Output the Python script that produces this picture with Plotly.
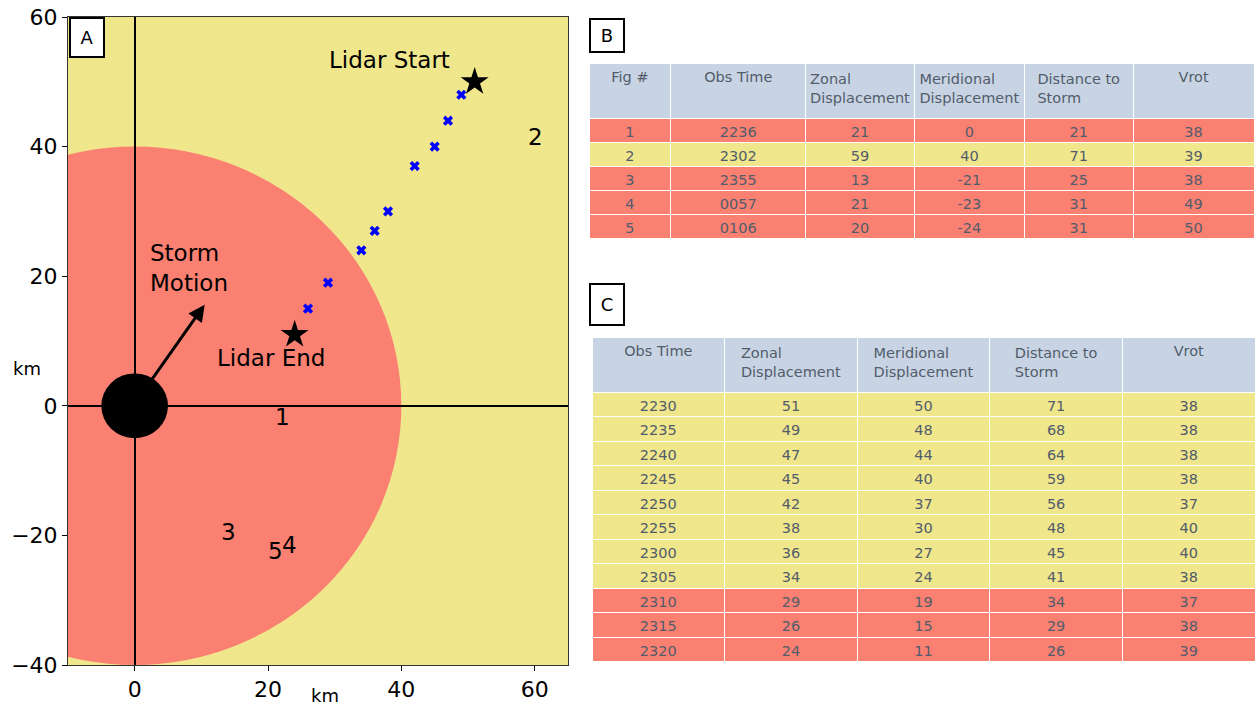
import plotly.graph_objects as go

# ---- Table B: selected figure times ----
fig_num = [1, 2, 3, 4, 5]
b_time = ["2236", "2302", "2355", "0057", "0106"]
b_zonal = [21, 59, 13, 21, 20]
b_merid = [0, 40, -21, -23, -24]
b_dist = [21, 71, 25, 31, 31]
b_vrot = [38, 39, 38, 49, 50]

# ---- Table C: lidar track ----
c_time = ["2230", "2235", "2240", "2245", "2250", "2255",
          "2300", "2305", "2310", "2315", "2320"]
c_zonal = [51, 49, 47, 45, 42, 38, 36, 34, 29, 26, 24]
c_merid = [50, 48, 44, 40, 37, 30, 27, 24, 19, 15, 11]
c_dist = [71, 68, 64, 59, 56, 48, 45, 41, 34, 29, 26]
c_vrot = [38, 38, 38, 38, 37, 40, 40, 38, 37, 38, 39]

near_radius = 40      # km, inner zone
storm_radius = 5      # km, storm marker
motion_vec = (10.5, 15.6)

SALMON = "#FA8072"
KHAKI = "#F0E68C"
HEAD = "#C8D4E3"
TXT = "#525c6b"

W, H = 1259, 708


def px_x(p):
    return p / W


def px_y(p):
    return 1 - p / H


fig = go.Figure()

# lidar track points
fig.add_trace(go.Scatter(
    x=c_zonal[1:-1], y=c_merid[1:-1], mode="markers",
    marker=dict(symbol="x", size=9, color="blue", line=dict(width=0)),
    xaxis="x", yaxis="y", showlegend=False, hoverinfo="skip"))
# start / end stars
fig.add_trace(go.Scatter(
    x=[c_zonal[0], c_zonal[-1]], y=[c_merid[0], c_merid[-1]], mode="markers",
    marker=dict(symbol="star", size=21, color="black", line=dict(width=0)),
    xaxis="x", yaxis="y", showlegend=False, hoverinfo="skip"))

# figure-number labels at their displacement (pixel nudges keep 4 and 5 apart)
label_nudge = {1: (0, 4), 4: (7, -5)}
for n, zx, my in zip(fig_num, b_zonal, b_merid):
    dx, dy = label_nudge.get(n, (0, -5))
    fig.add_annotation(x=zx, y=my, xref="x", yref="y", text=str(n),
                       showarrow=False, xanchor="left",
                       yanchor="top" if my == 0 else "bottom",
                       xshift=dx - 2, yshift=dy,
                       font=dict(family="DejaVu Sans", size=23, color="black"))

fig.add_annotation(x=38.2, y=53.4, xref="x", yref="y", text="Lidar Start",
                   showarrow=False,
                   font=dict(family="DejaVu Sans", size=23, color="black"))
fig.add_annotation(x=20.4, y=7.4, xref="x", yref="y", text="Lidar End",
                   showarrow=False,
                   font=dict(family="DejaVu Sans", size=23, color="black"))
fig.add_annotation(x=2.0, y=21.3, xref="x", yref="y", text="Storm<br>Motion",
                   showarrow=False, xanchor="left", align="left",
                   font=dict(family="DejaVu Sans", size=23, color="black"))
# storm motion arrow
fig.add_annotation(x=motion_vec[0], y=motion_vec[1], ax=1.5, ay=2.5,
                   xref="x", yref="y", axref="x", ayref="y", text="",
                   showarrow=True, arrowhead=2, arrowsize=1.1, arrowwidth=3,
                   arrowcolor="black")

# zones
fig.add_shape(type="circle", xref="x", yref="y",
              x0=-near_radius, y0=-near_radius, x1=near_radius, y1=near_radius,
              fillcolor=SALMON, line=dict(width=0), layer="below")
fig.add_shape(type="circle", xref="x", yref="y",
              x0=-storm_radius, y0=-storm_radius, x1=storm_radius, y1=storm_radius,
              fillcolor="black", line=dict(width=0), layer="above")

axis_common = dict(showgrid=False, zeroline=True, zerolinecolor="black",
                   zerolinewidth=1.5, showline=True, linecolor="#333",
                   linewidth=1, mirror=True, ticks="outside", ticklen=5,
                   tickcolor="black", automargin=False,
                   tickfont=dict(family="DejaVu Sans", size=22, color="black"))

fig.update_layout(
    width=W, height=H, margin=dict(l=0, r=0, t=0, b=0, autoexpand=False),
    paper_bgcolor="white", plot_bgcolor=KHAKI,
    xaxis=dict(domain=[px_x(68), px_x(568)], range=[-10, 65],
               tickvals=[0, 20, 40, 60], ticktext=["0", "20", "40", "60"],
               **axis_common),
    yaxis=dict(domain=[px_y(665), px_y(17)], range=[-40, 60],
               tickvals=[-40, -20, 0, 20, 40, 60],
               ticktext=["\u221240", "\u221220", "0", "20", "40", "60"],
               **axis_common),
)

# axis unit labels
fig.add_annotation(x=px_x(27), y=px_y(368), xref="paper", yref="paper",
                   text="km", showarrow=False, xanchor="center",
                   yanchor="middle",
                   font=dict(family="DejaVu Sans", size=18, color="black"))
fig.add_annotation(x=px_x(325), y=px_y(695), xref="paper", yref="paper",
                   text="km", showarrow=False, xanchor="center",
                   yanchor="middle",
                   font=dict(family="DejaVu Sans", size=18, color="black"))

# panel letters
for letter, cx, cy, bw, bh in [("A", 87, 37, 32, 37),
                               ("B", 607, 35, 32, 31),
                               ("C", 607, 304, 32, 39)]:
    fig.add_annotation(x=px_x(cx), y=px_y(cy), xref="paper", yref="paper",
                       text=letter, showarrow=False, width=bw, height=bh,
                       xanchor="center", yanchor="middle",
                       bgcolor="white", bordercolor="black", borderwidth=2,
                       borderpad=0,
                       font=dict(family="DejaVu Sans", size=18, color="black"))


def row_colors(dist):
    return [SALMON if d <= near_radius else KHAKI for d in dist]


tfont = dict(family="DejaVu Sans", size=14.5, color=TXT)

b_cols = [fig_num, b_time, b_zonal, b_merid, b_dist, b_vrot]
fig.add_trace(go.Table(
    domain=dict(x=[px_x(589), px_x(1255)], y=[px_y(245), px_y(63)]),
    columnwidth=[82, 135, 109, 110, 109, 121],
    header=dict(values=["Fig #", "Obs Time", "Zonal<br>Displacement",
                        "Meridional<br>Displacement", "Distance to<br>Storm",
                        "Vrot"],
                fill=dict(color=HEAD), line=dict(color="white", width=1),
                align="center", height=55, font=tfont),
    cells=dict(values=b_cols,
               fill=dict(color=[row_colors(b_dist)] * len(b_cols)),
               line=dict(color="white", width=1), align="center",
               height=24, font=tfont)))

c_cols = [c_time, c_zonal, c_merid, c_dist, c_vrot]
fig.add_trace(go.Table(
    domain=dict(x=[px_x(592), px_x(1255)], y=[px_y(670), px_y(337)]),
    columnwidth=[1, 1, 1, 1, 1],
    header=dict(values=["Obs Time", "Zonal<br>Displacement",
                        "Meridional<br>Displacement", "Distance to<br>Storm",
                        "Vrot"],
                fill=dict(color=HEAD), line=dict(color="white", width=1),
                align="center", height=55, font=tfont),
    cells=dict(values=c_cols,
               fill=dict(color=[row_colors(c_dist)] * len(c_cols)),
               line=dict(color="white", width=1), align="center",
               height=24.5, font=tfont)))

fig.write_html("out.html")
